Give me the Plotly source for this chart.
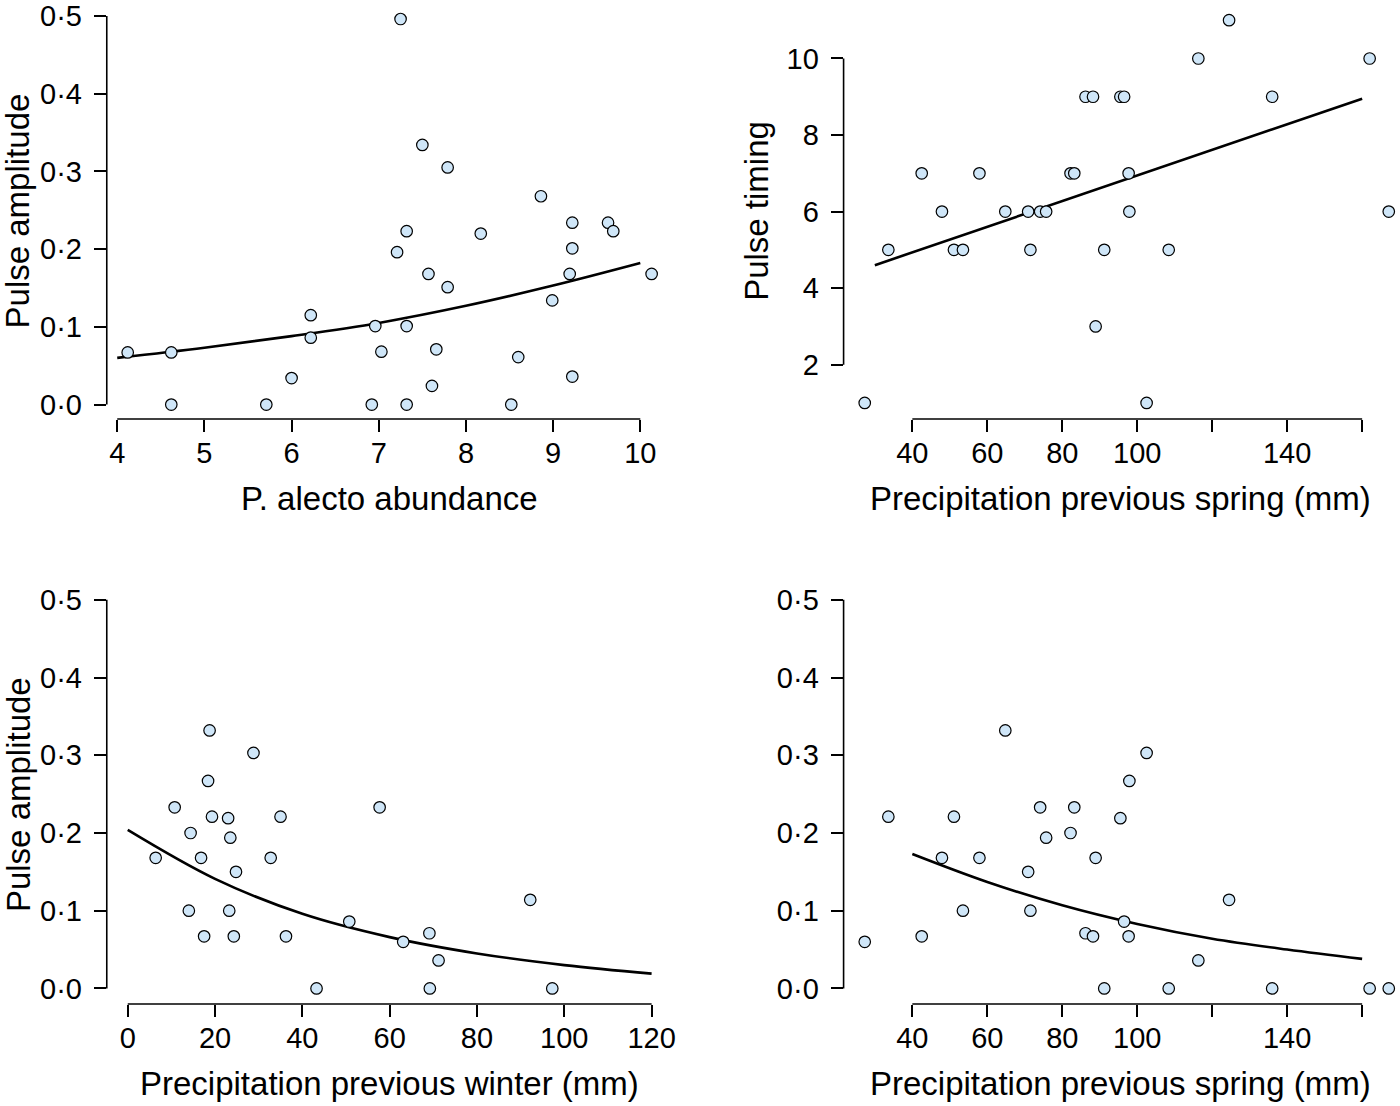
import plotly.graph_objects as go

# ---------------- data ----------------
abundance = [4.12, 4.62, 4.62, 5.71, 6.00, 6.22, 6.22, 6.92, 6.96, 7.03, 7.21, 7.25, 7.32, 7.32, 7.32,
             7.50, 7.57, 7.61, 7.66, 7.79, 7.79, 8.17, 8.52, 8.60, 8.86, 8.99, 9.22, 9.22, 9.19, 9.22,
             9.63, 9.69, 10.13]
amp_abundance = [0.067, 0.067, 0.0, 0.0, 0.034, 0.115, 0.086, 0.0, 0.101, 0.068, 0.196, 0.496, 0.223,
                 0.101, 0.0, 0.334, 0.168, 0.024, 0.071, 0.305, 0.151, 0.220, 0.0, 0.061, 0.268, 0.134,
                 0.234, 0.201, 0.168, 0.036, 0.234, 0.223, 0.168]

spring = [27.3, 33.6, 42.5, 47.9, 51.1, 53.5, 57.9, 64.8, 70.9, 71.5, 74.1, 75.7, 82.2, 83.2, 86.2,
          88.2, 88.9, 91.2, 95.5, 96.5, 97.7, 97.9, 102.5, 108.4, 116.3, 124.5, 136.0, 162.0, 167.1]
timing_spring = [1, 5, 7, 6, 5, 5, 7, 6, 6, 5, 6, 6, 7, 7, 9, 9, 3, 5, 9, 9, 7, 6, 1, 5, 10, 11, 9, 10, 6]
amp_spring = [0.060, 0.221, 0.067, 0.168, 0.221, 0.100, 0.168, 0.332, 0.150, 0.100, 0.233, 0.194,
              0.200, 0.233, 0.071, 0.067, 0.168, 0.0, 0.219, 0.086, 0.067, 0.267, 0.303, 0.0, 0.036,
              0.114, 0.0, 0.0, 0.0]

winter = [6.4, 10.75, 14.0, 14.4, 16.8, 17.5, 18.4, 18.75, 19.3, 23.0, 23.25, 23.5, 24.3, 24.8, 28.8,
          32.75, 35.0, 36.25, 43.25, 50.75, 57.7, 63.1, 69.1, 69.2, 71.2, 92.2, 97.25]
amp_winter = [0.168, 0.233, 0.100, 0.200, 0.168, 0.067, 0.267, 0.332, 0.221, 0.219, 0.100, 0.194,
              0.067, 0.150, 0.303, 0.168, 0.221, 0.067, 0.0, 0.086, 0.233, 0.060, 0.071, 0.0, 0.036,
              0.114, 0.0]

# fitted curves
fit1_x = [4, 5, 6, 7, 8, 9, 10]
fit1_y = [0.060, 0.073, 0.088, 0.105, 0.127, 0.153, 0.182]
fit2_x = [30, 160]
fit2_y = [4.60, 8.95]
fit3_x = [0, 20, 40, 60, 80, 100, 120]
fit3_y = [0.204, 0.141, 0.096, 0.066, 0.045, 0.030, 0.019]
fit4_x = [40, 60, 80, 100, 120, 140, 160]
fit4_y = [0.173, 0.137, 0.107, 0.083, 0.064, 0.050, 0.038]

# ticks
amp_ticks = [0.0, 0.1, 0.2, 0.3, 0.4, 0.5]
amp_labels = ["0\u00b70", "0\u00b71", "0\u00b72", "0\u00b73", "0\u00b74", "0\u00b75"]
abund_ticks = [4, 5, 6, 7, 8, 9, 10]
timing_ticks = [2, 4, 6, 8, 10]
spring_ticks = [40, 60, 80, 100, 120, 140, 160]
spring_labels = ["40", "60", "80", "100", "", "140", ""]
winter_ticks = [0, 20, 40, 60, 80, 100, 120]

x_titles = ["P. alecto abundance", "Precipitation previous spring (mm)",
            "Precipitation previous winter (mm)", "Precipitation previous spring (mm)"]
y_titles = ["Pulse amplitude", "Pulse timing", "Pulse amplitude", None]

# ---------------- layout helpers ----------------
W, H = 1400, 1106
FONT = "Liberation Sans, Arial, sans-serif"
PT_FILL = "#cfe6f8"


def fx(px):
    return px / W


def fy(py):
    return 1 - py / H


fig = go.Figure()

panels = [
    dict(x=abundance, y=amp_abundance, fx=fit1_x, fy=fit1_y,
         dom_x=(107, 674), dom_y=(0, 418.5), xr=[3.88, 10.37], yr=[-0.0186, 0.5179],
         xt=abund_ticks, xl=[str(t) for t in abund_ticks], yt=amp_ticks, yl=amp_labels),
    dict(x=spring, y=timing_spring, fx=fit2_x, fy=fit2_y,
         dom_x=(845.4, 1400), dom_y=(0, 418.5), xr=[21.66, 169.3], yr=[0.581, 11.476],
         xt=spring_ticks, xl=spring_labels, yt=timing_ticks, yl=[str(t) for t in timing_ticks]),
    dict(x=winter, y=amp_winter, fx=fit3_x, fy=fit3_y,
         dom_x=(107, 674), dom_y=(584.4, 1005.6), xr=[-4.8, 124.8], yr=[-0.02, 0.52],
         xt=winter_ticks, xl=[str(t) for t in winter_ticks], yt=amp_ticks, yl=amp_labels),
    dict(x=spring, y=amp_spring, fx=fit4_x, fy=fit4_y,
         dom_x=(845.4, 1400), dom_y=(584.4, 1005.6), xr=[21.66, 169.3], yr=[-0.02, 0.52],
         xt=spring_ticks, xl=spring_labels, yt=amp_ticks, yl=amp_labels),
]

for i, p in enumerate(panels):
    n = "" if i == 0 else str(i + 1)
    xa, ya = "x" + n, "y" + n
    fig.add_trace(go.Scatter(x=p["fx"], y=p["fy"], mode="lines", xaxis=xa, yaxis=ya,
                             line=dict(color="black", width=2.6, shape="spline"),
                             showlegend=False, hoverinfo="skip"))
    fig.add_trace(go.Scatter(x=p["x"], y=p["y"], mode="markers", xaxis=xa, yaxis=ya,
                             marker=dict(size=11.5, color=PT_FILL, line=dict(color="black", width=1.2)),
                             cliponaxis=False, showlegend=False))
    common = dict(showgrid=False, zeroline=False, showline=False, ticks="outside",
                  ticklen=12, tickwidth=1.6, tickcolor="black", ticklabeloverflow="allow",
                  tickfont=dict(family=FONT, size=29, color="black"))
    fig.layout["xaxis" + n] = dict(domain=[fx(p["dom_x"][0]), fx(p["dom_x"][1])],
                                   range=p["xr"], anchor=ya, tickmode="array",
                                   tickvals=p["xt"], ticktext=p["xl"], ticklabelstandoff=-4,
                                   **common)
    fig.layout["yaxis" + n] = dict(domain=[fy(p["dom_y"][1]), fy(p["dom_y"][0])],
                                   range=p["yr"], anchor=xa, tickmode="array",
                                   tickvals=p["yt"], ticktext=p["yl"], ticklabelstandoff=6,
                                   **common)
    # R-style axis lines spanning first..last tick
    fig.add_shape(type="line", xref=xa, yref=ya + " domain", x0=p["xt"][0], x1=p["xt"][-1],
                  y0=0, y1=0, line=dict(color="black", width=1.6))
    fig.add_shape(type="line", xref=xa + " domain", yref=ya, x0=0, x1=0,
                  y0=p["yt"][0], y1=p["yt"][-1], line=dict(color="black", width=1.6))

    # axis titles
    cx = (p["dom_x"][0] + min(p["dom_x"][1], 1412)) / 2
    cy = (p["dom_y"][0] + p["dom_y"][1]) / 2
    ty = p["dom_y"][1] + 80
    fig.add_annotation(text=x_titles[i], xref="paper", yref="paper", x=fx(cx), y=fy(ty),
                       xanchor="center", yanchor="middle", showarrow=False,
                       font=dict(family=FONT, size=33, color="black"))
    if y_titles[i]:
        tx = 18 if p["dom_x"][0] < 400 else 758
        fig.add_annotation(text=y_titles[i], xref="paper", yref="paper", x=fx(tx), y=fy(cy),
                           xanchor="center", yanchor="middle", showarrow=False, textangle=-90,
                           font=dict(family=FONT, size=33, color="black"))

fig.update_layout(width=W, height=H, margin=dict(l=0, r=0, t=0, b=0),
                  paper_bgcolor="white", plot_bgcolor="white")

fig.write_html("out.html", config={"displayModeBar": False},
               post_script="document.body.style.margin='0px';document.body.style.padding='0px';")
